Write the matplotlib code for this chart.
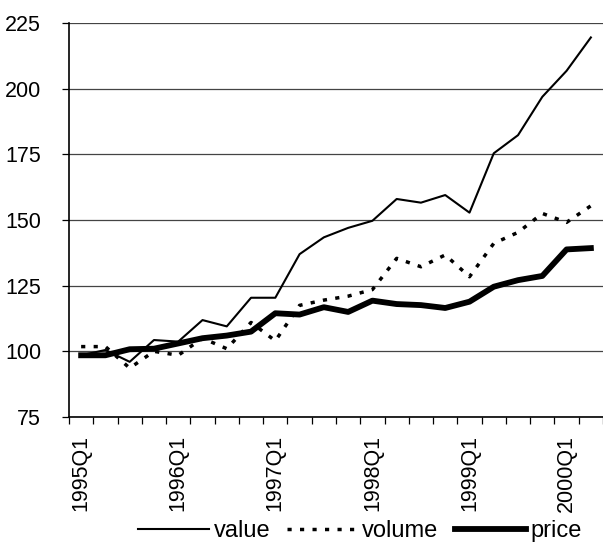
import numpy as np
import matplotlib
matplotlib.use("Agg")
import matplotlib.pyplot as plt

################################
# Data
################################
quarters = ["1995Q1", "1995Q2", "1995Q3", "1995Q4",
            "1996Q1", "1996Q2", "1996Q3", "1996Q4",
            "1997Q1", "1997Q2", "1997Q3", "1997Q4",
            "1998Q1", "1998Q2", "1998Q3", "1998Q4",
            "1999Q1", "1999Q2", "1999Q3", "1999Q4",
            "2000Q1", "2000Q2"]
value = [98.5, 100.5, 96.0, 104.3, 103.7, 111.9, 109.5, 120.4, 120.4, 137.0, 143.4,
         147.0, 149.7, 158.0, 156.6, 159.5, 152.8, 175.4, 182.3, 196.9, 206.8, 219.5]
volume = [101.8, 101.8, 93.6, 100.0, 98.5, 105.0, 101.0, 111.0, 104.0, 117.5, 119.5,
          121.0, 123.5, 135.4, 132.2, 136.7, 128.4, 141.1, 145.3, 152.5, 149.1, 155.4]
price = [98.5, 98.5, 100.8, 101.0, 103.0, 105.0, 106.0, 107.5, 114.5, 114.0, 116.8,
         115.0, 119.3, 118.0, 117.6, 116.5, 118.9, 124.6, 127.1, 128.7, 138.8, 139.3]
yticks = [75, 100, 125, 150, 175, 200, 225]

################################
# Plot
################################
plt.rcParams['font.family'] = ['Liberation Sans', 'DejaVu Sans']
fs = 15.5

fig = plt.figure(figsize=(6.03, 5.5), dpi=100)
ax = fig.add_axes([69/603, 133/550, 534/603, 394/550])

x = np.arange(len(quarters))
ax.plot(x, value, color='black', lw=1.5, label='value')
ax.plot(x, volume, color='black', lw=2.5, linestyle=(0, (1.2, 2.4)), label='volume')
ax.plot(x, price, color='black', lw=4.2, label='price')

ax.set_ylim(75, 225)
ax.set_yticks(yticks)
ax.yaxis.grid(True, color='#444444', lw=0.9)
ax.set_axisbelow(True)

ax.set_xlim(-0.5, len(quarters) - 0.5)
# tick marks at category boundaries, labels every 4 quarters
ax.set_xticks(np.arange(-0.5, len(quarters), 1.0))
ax.set_xticklabels([])
ax.set_xticks(x[::4], minor=True)
ax.set_xticklabels(quarters[::4], minor=True, rotation=90, fontsize=fs)
ax.tick_params(axis='x', which='major', length=5, width=0.9, direction='out')
ax.tick_params(axis='x', which='minor', length=0, pad=13)
ax.tick_params(axis='y', length=5, width=0.9, pad=15, labelsize=fs)

for side in ['top', 'right']:
    ax.spines[side].set_visible(False)
for side in ['left', 'bottom']:
    ax.spines[side].set_linewidth(1.2)

fig.legend(loc='center', bbox_to_anchor=(360/603, 1 - 531/550), ncol=3,
           frameon=False, fontsize=17, handlelength=3.0, handletextpad=0.2,
           columnspacing=0.7, borderaxespad=0)

fig.savefig("out.png", dpi=100)
